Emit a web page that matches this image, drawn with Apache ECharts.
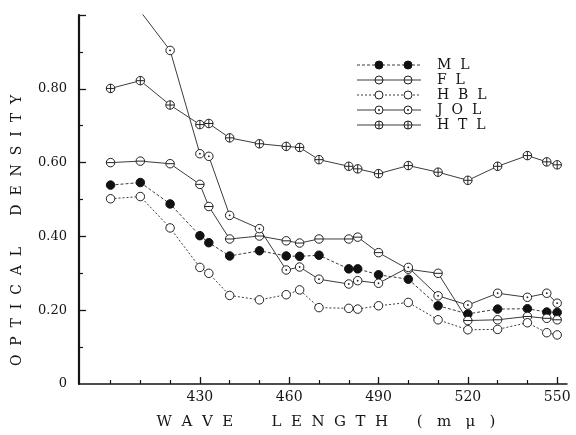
<!DOCTYPE html>
<html>
<head>
<meta charset="utf-8">
<script src="https://cdn.jsdelivr.net/npm/echarts@6/dist/echarts.min.js"></script>
<style>html,body{margin:0;padding:0;background:#fff;}#c{width:576px;height:435px;}</style>
</head>
<body>
<div id="c"></div>
<script>
// ---- data ----
const wavelengths = [400,410,420,430,433,440,450,459,463.5,470,480,483,490,500,510,520,530,540,546.5,550];
const ML  = [0.539,0.546,0.488,0.402,0.383,0.347,0.361,0.347,0.346,0.349,0.312,0.312,0.296,0.284,0.212,0.190,0.203,0.204,0.195,0.194];
const FL  = [0.600,0.604,0.597,0.541,0.481,0.393,0.401,0.388,0.382,0.393,0.393,0.398,0.356,0.311,0.300,0.172,0.174,0.183,0.178,0.174];
const HBL = [0.502,0.508,0.423,0.316,0.300,0.240,0.228,0.242,0.255,0.207,0.205,0.203,0.212,0.221,0.174,0.147,0.148,0.166,0.139,0.133];
const JOL = [null,1.01,0.904,0.624,0.617,0.457,0.421,0.309,0.317,0.284,0.271,0.280,0.273,0.316,0.239,0.214,0.246,0.235,0.246,0.219];
const HTL = [0.801,0.822,0.756,0.703,0.706,0.667,0.651,0.644,0.641,0.608,0.590,0.583,0.570,0.592,0.574,0.552,0.590,0.619,0.602,0.594];
const seriesNames = ['M L','F L','H B L','J O L','H T L'];
const xTickLabels = [430,460,490,520,550];
const xMinorTicks = [400,410,420,440,450,470,480,500,510,530,540];
const yTickLabels = [0,0.2,0.4,0.6,0.8];
const yMinorTicks = [0.1,0.3,0.5,0.7,0.9];
const xTitle = 'W  A  V  E        L  E  N  G  T  H      (   m   μ   )';
const yTitle = 'O  P  T  I  C  A  L       D  E  N  S  I  T  Y';

// ---- styles ----
const RING = 'M10,0A10,10 0 1,1 -10,0A10,10 0 1,1 10,0Z';
const symbols = {
  'M L':   {symbol:'circle', fill:'#111', stroke:'#111', mark:null},
  'F L':   {symbol:'path://' + RING + 'M-10,0L10,0', fill:'#fff', stroke:'#222', mark:'h'},
  'H B L': {symbol:'circle', fill:'#fff', stroke:'#222', mark:null},
  'J O L': {symbol:'path://' + RING + 'M-2,0L2,0M0,-2L0,2', fill:'#fff', stroke:'#222', mark:'dot'},
  'H T L': {symbol:'path://' + RING + 'M-10,0L10,0M0,-10L0,10', fill:'#fff', stroke:'#222', mark:'cross'}
};
const lineTypes = {'M L':[3,2],'F L':'solid','H B L':[2,2],'J O L':'solid','H T L':'solid'};
const values = [ML, FL, HBL, JOL, HTL];
const FONT = 'DejaVu Serif';
const INK = '#151515';

const series = seriesNames.map((name, i) => ({
  name: name,
  type: 'line',
  data: wavelengths.map((w, j) => [w, values[i][j]]),
  symbol: symbols[name].symbol,
  symbolSize: 8.5,
  showAllSymbol: true,
  connectNulls: false,
  clip: true,
  lineStyle: {color:'#3c3c3c', width:1, type: lineTypes[name]},
  itemStyle: {color: symbols[name].fill, borderColor: symbols[name].stroke, borderWidth: 1},
  emphasis: {disabled:true},
  z: 3
}));

// legend drawn as graphic (two markers per key, like the original)
const legendGraphic = [];
const LX0 = 357, LX1 = 421, LM1 = 379, LM2 = 408, LT = 437, LY0 = 65, LDY = 15, R = 4;
seriesNames.forEach((name, i) => {
  const y = LY0 + i * LDY;
  const s = symbols[name];
  legendGraphic.push({type:'line', shape:{x1:LX0, y1:y, x2:LX1, y2:y},
    style:{stroke:'#3c3c3c', lineWidth:1, lineDash: Array.isArray(lineTypes[name]) ? lineTypes[name] : null}});
  [LM1, LM2].forEach(mx => {
    legendGraphic.push({type:'circle', shape:{cx:mx, cy:y, r:R}, style:{fill:s.fill, stroke:s.stroke, lineWidth:1}, z:5});
    if (s.mark === 'h' || s.mark === 'cross') {
      legendGraphic.push({type:'line', shape:{x1:mx-R, y1:y, x2:mx+R, y2:y}, style:{stroke:s.stroke, lineWidth:1}, z:6});
    }
    if (s.mark === 'cross') {
      legendGraphic.push({type:'line', shape:{x1:mx, y1:y-R, x2:mx, y2:y+R}, style:{stroke:s.stroke, lineWidth:1}, z:6});
    }
    if (s.mark === 'dot') {
      legendGraphic.push({type:'circle', shape:{cx:mx, cy:y, r:1}, style:{fill:s.stroke}, z:6});
    }
  });
  legendGraphic.push({type:'text', x:LT, y:y, style:{text:name.replace(/ /g,'  '), font:'14px "DejaVu Serif"', fill:INK, verticalAlign:'middle', textAlign:'left'}});
});

const chart = echarts.init(document.getElementById('c'), null, {renderer:'canvas'});
chart.setOption({
  animation:false,
  backgroundColor:'#ffffff',
  grid:{left:79, right:9, top:15, bottom:51},
  xAxis:[{
    type:'value', min:389.4, max:553.3, position:'bottom',
    splitLine:{show:false},
    axisLine:{lineStyle:{color:INK, width:1.5}},
    axisTick:{inside:true, length:7, customValues:xTickLabels, lineStyle:{color:INK, width:1.3}},
    axisLabel:{customValues:xTickLabels, margin:6, fontFamily:FONT, fontSize:14, color:INK},
    name:xTitle, nameLocation:'middle', nameGap:31,
    nameTextStyle:{fontFamily:FONT, fontSize:15, color:INK, padding:[0,0,0,6]}
  },{
    type:'value', min:389.4, max:553.3, position:'bottom', offset:0,
    splitLine:{show:false}, axisLine:{show:false}, axisLabel:{show:false},
    axisTick:{inside:true, length:4, customValues:xMinorTicks, lineStyle:{color:INK, width:1.2}}
  }],
  yAxis:[{
    type:'value', min:0, max:1.0, position:'left',
    splitLine:{show:false},
    axisLine:{show:true, lineStyle:{color:INK, width:2.2}},
    axisTick:{show:true, inside:true, length:7, customValues:[0.2,0.4,0.6,0.8,1.0], lineStyle:{color:INK, width:1.3}},
    axisLabel:{customValues:yTickLabels, margin:12, fontFamily:FONT, fontSize:13, color:INK,
      formatter: v => v === 0 ? '0' : v.toFixed(2)},
    name:yTitle, nameLocation:'middle', nameGap:55,
    nameTextStyle:{fontFamily:FONT, fontSize:14, color:INK, padding:[0,62,0,0]}
  },{
    type:'value', min:0, max:1.0, position:'left', offset:0,
    splitLine:{show:false}, axisLine:{show:false}, axisLabel:{show:false},
    axisTick:{show:true, inside:true, length:4, customValues:yMinorTicks, lineStyle:{color:INK, width:1.2}}
  }],
  graphic: legendGraphic,
  series: series
});
</script>
</body>
</html>
